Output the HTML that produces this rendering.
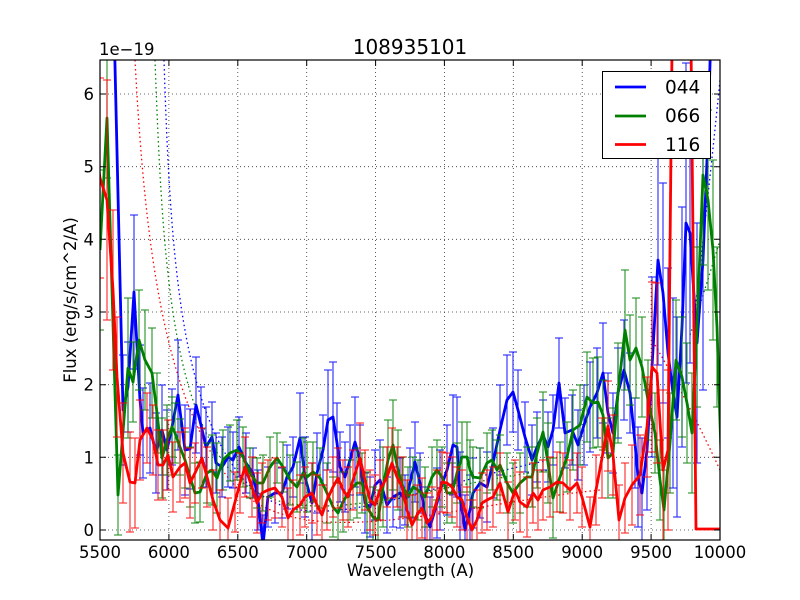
<!DOCTYPE html>
<html><head><meta charset="utf-8"><style>
html,body{margin:0;padding:0;background:#fff;}
svg{display:block;}
text{font-family:"DejaVu Sans","Liberation Sans",sans-serif;fill:#000;}
</style></head><body>
<svg width="800" height="600" viewBox="0 0 800 600" xmlns="http://www.w3.org/2000/svg">
<defs>
<clipPath id="ax"><rect x="100" y="60" width="620" height="480"/></clipPath>
<marker id="mb" markerUnits="userSpaceOnUse" markerWidth="10" markerHeight="4" refX="5" refY="2" orient="0" overflow="visible"><path d="M1 2H9" stroke="#0000ff" stroke-width="1.1"/></marker>
<marker id="mg" markerUnits="userSpaceOnUse" markerWidth="10" markerHeight="4" refX="5" refY="2" orient="0" overflow="visible"><path d="M1 2H9" stroke="#008000" stroke-width="1.1"/></marker>
<marker id="mr" markerUnits="userSpaceOnUse" markerWidth="10" markerHeight="4" refX="5" refY="2" orient="0" overflow="visible"><path d="M1 2H9" stroke="#ff0000" stroke-width="1.1"/></marker>
</defs>
<rect x="0" y="0" width="800" height="600" fill="#fff"/>
<rect x="100" y="60" width="620" height="480" fill="#fff"/>

<!-- grid -->
<g stroke="#000" stroke-width="0.8" stroke-dasharray="1,3" fill="none" opacity="0.8">
<path d="M168.9 60V540M237.8 60V540M306.7 60V540M375.6 60V540M444.4 60V540M513.3 60V540M582.2 60V540M651.1 60V540"/>
<path d="M100 530H720M100 457.3H720M100 384.7H720M100 312H720M100 239.3H720M100 166.7H720M100 94H720"/>
</g>

<g clip-path="url(#ax)">
<!-- dotted model curves -->
<g fill="none" stroke-width="1.3" stroke-dasharray="1.5,3">
<path stroke="#ff0000" d="M135 60C145 250 165 400 230 480S450 505 600 490"/>
<path stroke="#ff0000" d="M655 345Q690 405 720 470"/>
<path stroke="#008000" d="M155 60C162 250 170 400 230 470S400 490 550 470"/>
<path stroke="#008000" d="M690 335Q705 290 720 240"/>
<path stroke="#0000ff" d="M164 60C170 250 180 400 240 475S400 490 550 460"/>
<path stroke="#0000ff" d="M695 310Q708 200 720 80"/>
</g>

<!-- blue 044 -->
<g opacity="0.85">
<path fill="none" stroke="#0000ff" stroke-width="1.1" marker-start="url(#mb)" marker-mid="url(#mb)" marker-end="url(#mb)" d="M123 355V465M128 342V432M134 215V369M140 345V455M143 388V478M150 383V473M156 413V493M162 385V475M167 410V490M172 389V465M178 340V450M185 405V495M190 409V489M196 357V453M201 387V463M206 407V487M212 402V472M216 433V493M222 437V497M228 427V487M233 432V488M239 417V477M246 433V493M253 448V498M258 470V530M263 515V575M268 467V527M275 463V523M282 468V518M287 445V509M293 437V497M300 393V483M305 437V517M312 463V543M317 433V513M323 415V485M328 370V470M333 362V472M337 403V483M340 432V502M345 442V512M350 425V495M355 397V487M360 425V495M365 473V533M370 477V537M375 450V520M380 440V520M387 477V533M393 467V527M400 458V528M405 475V525M410 448V518M415 422V502M420 453V513M425 487V543M430 497V557M437 468V538M440 450V530M447 425V515M453 395V495M457 397V497M460 452V542M465 495V565M470 475V545M473 458V528M480 448V518M487 452V522M493 428V498M500 385V475M507 355V445M513 352V432M518 370V450M525 402V472M532 425V495M537 412V482M543 400V470M548 412V482M553 395V465M559 338V428M565 398V468M572 395V465M578 410V480M584 385V465M590 362V452M597 348V438M603 323V423M608 373V453M613 393V473M618 348V438M624 320V420M630 353V433M635 398V488M638 427V527M642 438V548M647 390V510M652 277V457M658 155V365M663 183V403M668 268V438M673 298V488M677 317V517M682 207V447M686 63V383M690 103V363M697 223V463M703 130V390"/>
</g>
<polyline fill="none" stroke="#0000ff" stroke-width="2.8" stroke-linejoin="round" points="100,-600 110,-150 123,410 128,387 134,292 140,400 143,433 150,428 156,453 162,430 167,450 172,427 178,395 185,450 190,449 196,405 201,425 206,447 212,437 216,463 222,467 228,457 233,460 239,447 246,463 253,473 258,500 263,545 268,497 275,493 282,493 287,477 293,467 300,438 305,477 312,503 317,473 323,450 328,420 333,417 337,443 340,467 345,477 350,460 355,442 360,460 365,503 370,507 375,485 380,480 387,505 393,497 400,493 405,500 410,483 415,462 420,483 425,515 430,527 437,503 440,490 447,470 453,445 457,447 460,497 465,530 470,510 473,493 480,483 487,487 493,463 500,430 507,400 513,392 518,410 525,437 532,460 537,447 543,435 548,447 553,430 559,383 565,433 572,430 578,445 584,425 590,407 597,393 603,373 608,413 613,433 618,393 624,370 630,393 635,443 638,477 642,493 647,450 652,367 658,260 663,293 668,353 673,393 677,417 682,327 686,223 690,233 697,343 703,260 707,160 712,0 718,-100"/>

<!-- green 066 -->
<g opacity="0.85">
<path fill="none" stroke="#008000" stroke-width="1.1" marker-start="url(#mg)" marker-mid="url(#mg)" marker-end="url(#mg)" d="M100 170V330M107 58V178M118 455V535M128 298V438M133 342V422M139 290V390M145 310V410M152 328V418M157 373V453M162 418V498M167 405V475M172 397V457M175 403V463M180 419V475M185 432V488M190 447V507M195 463V523M200 462V522M207 443V503M212 435V505M217 443V513M223 430V490M230 425V481M237 420V480M243 427V487M250 448V498M257 458V508M263 455V511M270 437V497M277 433V483M283 442V492M290 455V505M297 462V512M303 438V508M307 442V512M313 442V502M320 448V508M327 463V523M333 477V537M338 483V543M343 472V532M350 460V520M357 448V518M362 453V513M367 472V542M373 487V547M378 490V550M383 447V527M388 420V500M393 400V490M398 430V510M403 457V517M408 467V527M413 457V517M418 460V520M425 467V527M432 447V507M437 440V500M442 447V507M447 463V523M452 463V523M457 443V503M462 422V492M467 422V492M470 440V500M473 447V507M480 448V508M487 433V493M492 430V490M497 440V500M500 435V495M507 453V513M513 463V523M520 453V513M527 447V507M532 447V507M537 418V488M543 392V472M548 423V503M553 458V538M560 442V512M567 422V492M573 390V470M580 385V465M587 352V442M593 358V448M598 357V447M603 380V450M608 418V498M613 408V498M618 343V443M625 270V390M630 315V405M636 298V398M642 317V417M648 360V440M655 393V473M660 440V520M664 470V550M670 393V493M676 300V420M682 317V437M687 343V463M692 373V493M697 247V407M703 85V265M708 110V290M713 160V340M717 247V407"/>
</g>
<polyline fill="none" stroke="#008000" stroke-width="2.8" stroke-linejoin="round" points="100,250 107,118 118,495 128,368 133,382 139,340 145,360 152,373 157,413 162,458 167,440 172,427 175,433 180,447 185,460 190,477 195,493 200,492 207,473 212,470 217,478 223,460 230,453 237,450 243,457 250,473 257,483 263,483 270,467 277,458 283,467 290,480 297,487 303,473 307,477 313,472 320,478 327,493 333,507 338,513 343,502 350,490 357,483 362,483 367,507 373,517 378,520 383,487 388,460 393,445 398,470 403,487 408,497 413,487 418,490 425,497 432,477 437,470 442,477 447,493 452,493 457,473 462,457 467,457 470,470 473,477 480,478 487,463 492,460 497,470 500,465 507,483 513,493 520,483 527,477 532,477 537,453 543,432 548,463 553,498 560,477 567,457 573,430 580,425 587,397 593,403 598,402 603,415 608,458 613,453 618,393 625,330 630,360 636,348 642,367 648,400 655,433 660,480 664,510 670,443 676,360 682,377 687,403 692,433 697,327 703,175 708,200 713,250 717,327 721,453"/>

<!-- red 116 -->
<g opacity="0.85">
<path fill="none" stroke="#ff0000" stroke-width="1.1" marker-start="url(#mr)" marker-mid="url(#mr)" marker-end="url(#mr)" d="M100 78V278M107 80V320M113 210V370M117 317V437M123 403V503M130 432V532M135 438V528M140 400V480M147 393V463M153 405V475M158 430V500M163 430V500M168 420V490M173 442V512M180 432V502M185 428V498M190 448V518M195 443V503M202 428V488M207 447V507M213 470V530M220 490V550M228 498V558M235 472V532M240 453V513M245 437V497M252 457V517M257 473V533M262 463V523M268 460V520M275 458V518M282 467V527M288 488V548M293 480V540M300 475V535M305 467V527M312 463V523M317 475V535M322 485V545M327 470V530M333 457V517M338 448V508M343 460V520M348 467V527M353 450V510M360 423V493M365 450V510M370 470V530M375 475V535M380 460V520M387 447V507M392 428V498M397 447V507M402 457V517M407 480V540M412 495V555M417 485V545M422 478V538M427 493V553M432 487V547M437 470V530M442 452V512M447 453V513M452 457V517M457 467V527M462 470V530M467 487V547M472 500V560M477 490V550M482 473V533M487 470V530M493 467V527M500 453V513M508 482V542M515 460V520M520 472V532M527 477V537M533 463V523M538 470V530M543 460V520M550 457V517M557 452V512M563 453V513M570 460V520M577 453V513M582 467V527M590 497V557M596 455V525M602 418V498M608 381V471M613 415V495M619 485V555M625 463V533M632 445V525M640 435V515M647 377V477M652 282V452M657 283V463M663 390V550M668 370V530"/>
</g>
<polyline fill="none" stroke="#ff0000" stroke-width="2.8" stroke-linejoin="round" points="96,150 100,178 107,200 113,290 117,377 123,453 130,482 135,483 140,440 147,428 153,440 158,465 163,465 168,455 173,477 180,467 185,463 190,483 195,473 202,458 207,477 213,500 220,520 228,528 235,502 240,483 245,467 252,487 257,503 262,493 268,490 275,488 282,497 288,518 293,510 300,505 305,497 312,493 317,505 322,515 327,500 333,487 338,478 343,490 348,497 353,480 360,458 365,480 370,500 375,505 380,490 387,477 392,463 397,477 402,487 407,510 412,525 417,515 422,508 427,523 432,517 437,500 442,482 447,483 452,487 457,497 462,500 467,517 472,530 477,520 482,503 487,500 493,497 500,483 508,512 515,490 520,502 527,507 533,493 538,500 543,490 550,487 557,482 563,483 570,490 577,483 582,497 590,527 596,490 602,458 608,426 613,455 619,520 625,498 632,485 640,475 647,427 652,367 657,373 663,470 668,450 674,-150 682,-300 689,-150 696,529 720,529"/>
</g>

<!-- ticks -->
<g stroke="#000" stroke-width="1" fill="none">
<path d="M168.9 540v-6M237.8 540v-6M306.7 540v-6M375.6 540v-6M444.4 540v-6M513.3 540v-6M582.2 540v-6M651.1 540v-6M168.9 60v6M237.8 60v6M306.7 60v6M375.6 60v6M444.4 60v6M513.3 60v6M582.2 60v6M651.1 60v6"/>
<path d="M100 530h6M100 457.3h6M100 384.7h6M100 312h6M100 239.3h6M100 166.7h6M100 94h6M720 530h-6M720 457.3h-6M720 384.7h-6M720 312h-6M720 239.3h-6M720 166.7h-6M720 94h-6"/>
</g>
<rect x="100" y="60" width="620" height="480" fill="none" stroke="#000" stroke-width="1.2"/>

<!-- tick labels -->
<g font-size="16.5" text-anchor="middle">
<text x="100" y="558">5500</text>
<text x="168.9" y="558">6000</text>
<text x="237.8" y="558">6500</text>
<text x="306.7" y="558">7000</text>
<text x="375.6" y="558">7500</text>
<text x="444.4" y="558">8000</text>
<text x="513.3" y="558">8500</text>
<text x="582.2" y="558">9000</text>
<text x="651.1" y="558">9500</text>
<text x="720" y="558">10000</text>
</g>
<g font-size="16.5" text-anchor="end">
<text x="94" y="536">0</text>
<text x="94" y="463.3">1</text>
<text x="94" y="390.7">2</text>
<text x="94" y="318">3</text>
<text x="94" y="245.3">4</text>
<text x="94" y="172.7">5</text>
<text x="94" y="100">6</text>
</g>
<text x="99" y="55" font-size="16.5">1e−19</text>
<text x="410" y="54" font-size="20" text-anchor="middle">108935101</text>
<text x="410.5" y="576" font-size="16.5" text-anchor="middle">Wavelength (A)</text>
<text transform="translate(76,300) rotate(-90)" font-size="16.5" text-anchor="middle">Flux (erg/s/cm^2/A)</text>

<!-- legend -->
<rect x="602.5" y="71.5" width="108" height="87" fill="#fff" stroke="#000" stroke-width="1"/>
<g stroke-width="2.8">
<path d="M615 87H646" stroke="#0000ff"/>
<path d="M615 116H646" stroke="#008000"/>
<path d="M615 144.5H646" stroke="#ff0000"/>
</g>
<g font-size="18.5">
<text x="665" y="93.5">044</text>
<text x="665" y="122">066</text>
<text x="665" y="151">116</text>
</g>
</svg>
</body></html>
